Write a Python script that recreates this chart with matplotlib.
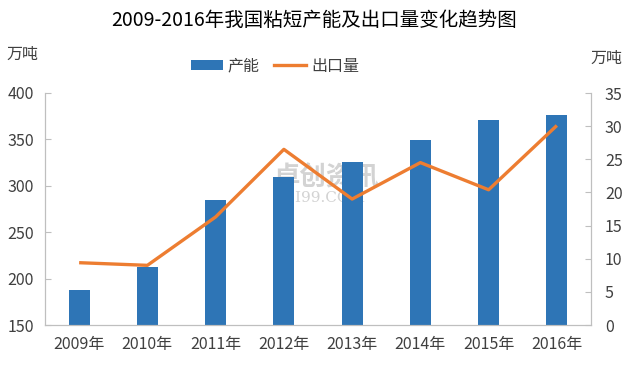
import matplotlib
matplotlib.use("Agg")
import matplotlib.pyplot as plt
from matplotlib.lines import Line2D
from matplotlib.patches import Patch

plt.rcParams['font.family'] = ['Noto Sans CJK SC', 'DejaVu Sans']

years = ["2009年", "2010年", "2011年", "2012年", "2013年", "2014年", "2015年", "2016年"]
capacity = [188, 212, 285, 310, 326, 349, 371, 376]      # 产能, 万吨
exports = [9.4, 9.0, 16.3, 26.5, 19.0, 24.5, 20.4, 30.1]  # 出口量, 万吨

BLUE = "#2E75B6"
ORANGE = "#ED7D31"
GREY = "#BFBFBF"
TXT = "#404040"

fig = plt.figure(figsize=(6.28, 3.65), dpi=100)
ax = fig.add_axes([45 / 628, 1 - 325 / 365, 546 / 628, 232 / 365])
ax2 = ax.twinx()

x = list(range(len(years)))
ax.bar(x, capacity, width=0.31, color=BLUE, zorder=2)
ax2.plot(x, exports, color=ORANGE, lw=2.4, solid_capstyle="butt", zorder=3)

ax.set_xlim(-0.5, len(years) - 0.5)
ax.set_ylim(150, 400)
ax.set_yticks(range(150, 401, 50))
ax2.set_ylim(0, 35)
ax2.set_yticks(range(0, 36, 5))
ax.set_xticks(x)
ax.set_xticklabels(years)

for a in (ax, ax2):
    for s in a.spines.values():
        s.set_color(GREY)
    a.spines["top"].set_visible(False)
    a.tick_params(axis="y", direction="in", length=4, color=GREY,
                  labelsize=11.5, labelcolor=TXT, pad=8)
ax.tick_params(axis="x", length=0, labelsize=11.5, labelcolor=TXT, pad=8)
ax2.tick_params(axis="y", pad=10)

# watermark, behind the bars
ax.text(0.52, 1 - 178 / 365, "卓创资讯", fontsize=19, color="#D3D3D3",
        ha="center", va="center", fontweight="bold",
        transform=fig.transFigure, zorder=1)
ax.text(0.51, 1 - 198 / 365, "SCI99.COM", fontsize=11, color="#D3D3D3",
        ha="center", va="center", family="DejaVu Serif",
        transform=fig.transFigure, zorder=1)

fig.text(0.5, 1 - 20 / 365, "2009-2016年我国粘短产能及出口量变化趋势图",
         ha="center", va="center", fontsize=14, color="#000000")
fig.text(22 / 628, 1 - 54 / 365, "万吨", ha="center", va="center",
         fontsize=11.5, color=TXT)
fig.text(606 / 628, 1 - 58 / 365, "万吨", ha="center", va="center",
         fontsize=11.5, color=TXT)

handles = [Patch(facecolor=BLUE), Line2D([0], [0], color=ORANGE, lw=2.4)]
fig.legend(handles, ["产能", "出口量"], loc="center", ncol=2,
           bbox_to_anchor=(275 / 628, 1 - 66 / 365), frameon=False, fontsize=11.5,
           handlelength=2.0, handleheight=0.6, columnspacing=0.9,
           handletextpad=0.3, labelcolor=TXT)

fig.savefig("out.png", dpi=100)
